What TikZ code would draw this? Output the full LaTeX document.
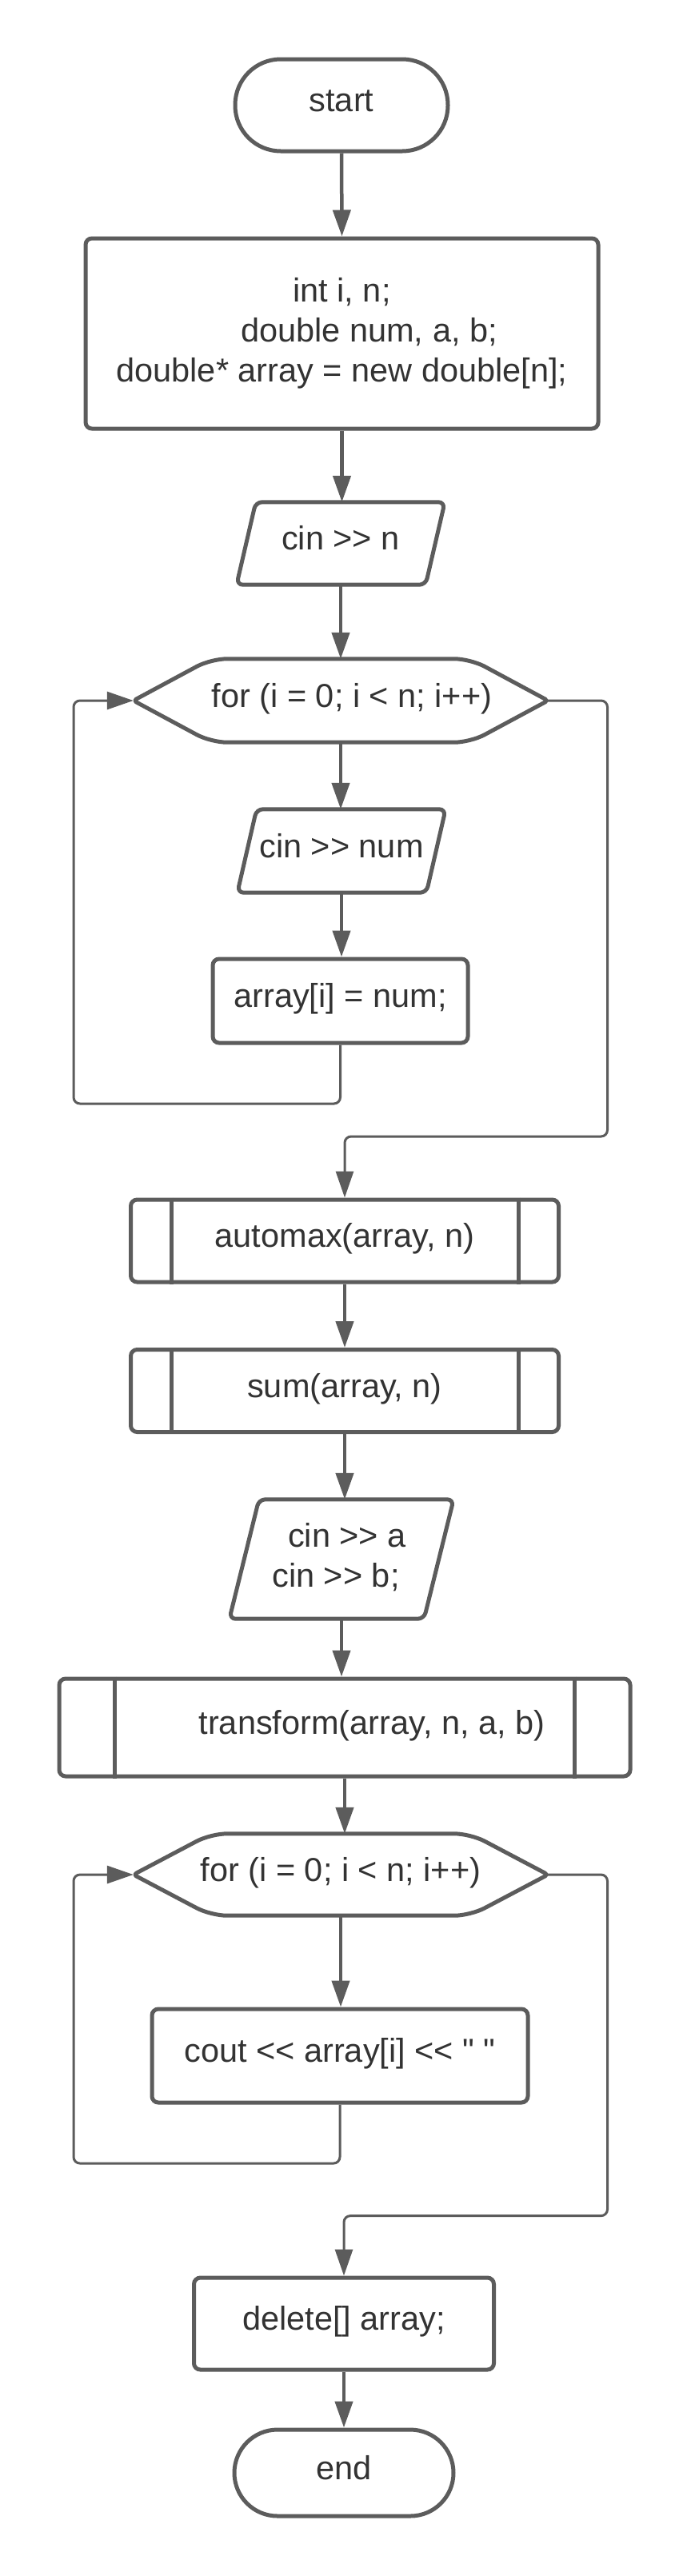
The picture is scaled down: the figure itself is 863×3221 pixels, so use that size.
\documentclass[tikz,border=0pt]{standalone}
\usepackage{fontspec}
\setmainfont{Liberation Sans}[Ligatures=TeXOff]
\usetikzlibrary{arrows.meta}
\definecolor{ln}{HTML}{5C5C5C}
\definecolor{tx}{HTML}{333333}
\tikzset{
  base/.style={text=tx, font=\fontsize{41.5}{50}\selectfont, inner sep=0pt, align=center},
  one/.style={text height=30pt, text depth=14pt},
  proc/.style={base, draw=ln, line width=5pt, rounded corners=8pt},
  border/.style={draw=ln, line width=5pt, rounded corners=8pt, line join=round},
  arr/.style={draw=ln, line width=4.5pt, -{Triangle[length=33pt,width=22pt]}},
  loopln/.style={draw=ln, line width=3pt, rounded corners=8pt, -{Triangle[length=33pt,width=22pt]}},
}
\begin{document}
\begin{tikzpicture}[x=1pt,y=-1pt]
\fill[white] (0,0) rectangle (863,3221);
\useasboundingbox (0,0) rectangle (863,3221);

% nodes
\node[proc, one, rounded corners=57pt, minimum width=266pt, minimum height=115pt] (start) at (427,131.5) {start};
\node[proc, minimum width=641pt, minimum height=238pt] (init) at (427.5,417) {\begin{tabular}{@{}c@{}}int i, n;\\\hspace*{68pt}double num, a, b;\\double* array = new double[n];\end{tabular}};
\node[base, one, minimum width=236pt, minimum height=103pt] (cinn) at (426,679.5) {cin >> n};
\node[base, one, minimum width=518pt, minimum height=104pt] (hexa) at (426,876) {\hspace*{28pt}for (i = 0; i < n; i++)};
\node[base, one, minimum width=236pt, minimum height=104pt] (cinnum) at (427,1064) {cin >> num};
\node[proc, one, minimum width=319pt, minimum height=105pt] (asg) at (425.5,1251.5) {array[i] = num;};
\node[proc, one, minimum width=535pt, minimum height=103pt] (automax) at (431,1551.5) {automax(array, n)};
\node[proc, one, minimum width=535pt, minimum height=103pt] (sum) at (431,1739) {sum(array, n)};
\node[base, minimum width=243pt, minimum height=149pt] (cinab) at (427,1949.5) {\raisebox{2pt}{\begin{tabular}{@{}c@{}}\hspace*{14pt}cin >> a\\cin >> b;\hspace*{14pt}\end{tabular}}};
\node[proc, one, minimum width=714pt, minimum height=122pt] (transform) at (431,2160) {\hspace*{68pt}transform(array, n, a, b)};
\node[base, one, minimum width=518pt, minimum height=102pt] (hexb) at (426,2344) {for (i = 0; i < n; i++)};
\node[proc, one, minimum width=470pt, minimum height=117pt] (cout) at (425,2570.5) {cout << array[i] << " "};
\node[proc, one, minimum width=375pt, minimum height=115pt] (del) at (430,2905.5) {delete[] array;};
\node[proc, one, rounded corners=54pt, minimum width=274pt, minimum height=108pt] (end) at (430,3092) {end};

% parallelograms
\draw[border] ([xshift=12pt]cinn.north west) -- ([xshift=12pt]cinn.north east) -- ([xshift=-12pt]cinn.south east) -- ([xshift=-12pt]cinn.south west) -- cycle;
\draw[border] ([xshift=12pt]cinnum.north west) -- ([xshift=12pt]cinnum.north east) -- ([xshift=-12pt]cinnum.south east) -- ([xshift=-12pt]cinnum.south west) -- cycle;
\draw[border] ([xshift=18.5pt]cinab.north west) -- ([xshift=18.5pt]cinab.north east) -- ([xshift=-18.5pt]cinab.south east) -- ([xshift=-18.5pt]cinab.south west) -- cycle;

% hexagons
\draw[border, rounded corners=4pt] (hexa.west) [rounded corners=20pt] -- ([xshift=97pt]hexa.north west) -- ([xshift=-97pt]hexa.north east) [rounded corners=4pt] -- (hexa.east) [rounded corners=20pt] -- ([xshift=-97pt]hexa.south east) -- ([xshift=97pt]hexa.south west) [rounded corners=4pt] -- cycle;
\draw[border, rounded corners=4pt] (hexb.west) [rounded corners=20pt] -- ([xshift=97pt]hexb.north west) -- ([xshift=-97pt]hexb.north east) [rounded corners=4pt] -- (hexb.east) [rounded corners=20pt] -- ([xshift=-97pt]hexb.south east) -- ([xshift=97pt]hexb.south west) [rounded corners=4pt] -- cycle;

% predefined process inner lines
\draw[border] ([xshift=53pt]automax.north west) -- ([xshift=53pt]automax.south west);
\draw[border] ([xshift=-53pt]automax.north east) -- ([xshift=-53pt]automax.south east);
\draw[border] ([xshift=53pt]sum.north west) -- ([xshift=53pt]sum.south west);
\draw[border] ([xshift=-53pt]sum.north east) -- ([xshift=-53pt]sum.south east);
\draw[border] ([xshift=72pt]transform.north west) -- ([xshift=72pt]transform.south west);
\draw[border] ([xshift=-72pt]transform.north east) -- ([xshift=-72pt]transform.south east);

% main connectors
\draw[arr] (start.south) -- (init.north);
\draw[arr] (init.south) -- (init.south |- cinn.north);
\draw[arr] (cinn.south) -- (hexa.north);
\draw[arr] (hexa.south) -- (hexa.south |- cinnum.north);
\draw[arr] (cinnum.south) -- (cinnum.south |- asg.north);
\draw[arr] (automax.south) -- (sum.north);
\draw[arr] (sum.south) -- (sum.south |- cinab.north);
\draw[arr] (cinab.south) -- (cinab.south |- transform.north);
\draw[arr] (transform.south) -- (transform.south |- hexb.north);
\draw[arr] (hexb.south) -- (hexb.south |- cout.north);
\draw[arr] (del.south) -- (end.north);

% loops
\coordinate (la) at (92,1380);
\coordinate (ra) at (759.5,1421);
\coordinate (lb) at (92,2705);
\coordinate (rb) at (759.5,2770.6);
\draw[loopln] (asg.south) |- (la) |- (hexa.west);
\draw[loopln] (hexa.east) -| (ra) -| (automax.north);
\draw[loopln] (cout.south) |- (lb) |- (hexb.west);
\draw[loopln] (hexb.east) -| (rb) -| (del.north);
\end{tikzpicture}
\end{document}
